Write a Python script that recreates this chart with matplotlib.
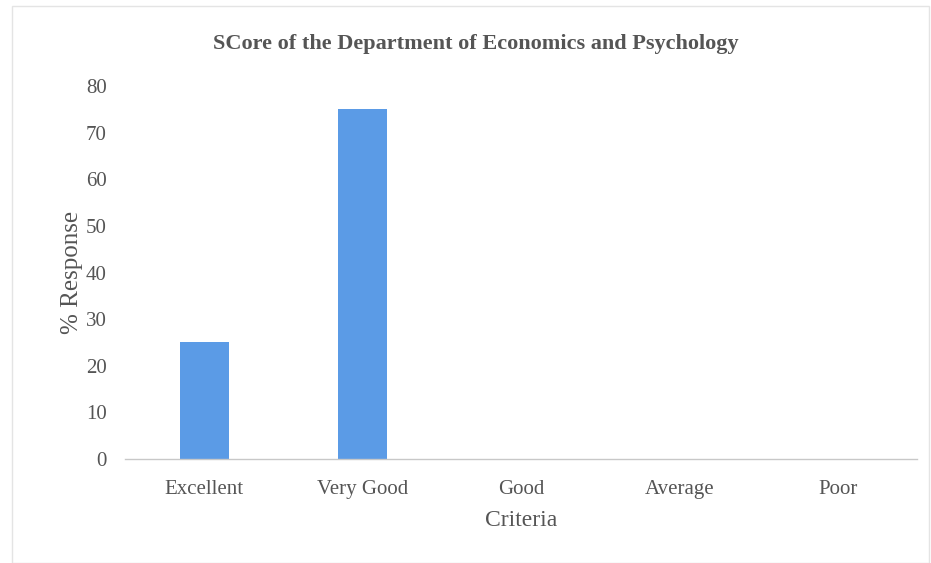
import matplotlib
matplotlib.use("Agg")
from matplotlib import pyplot as plt
from matplotlib.patches import Rectangle

categories = ["Excellent", "Very Good", "Good", "Average", "Poor"]
response = [25, 75, 0, 0, 0]
y_ticks = [0, 10, 20, 30, 40, 50, 60, 70, 80]

text_color = "#555555"
bar_color = "#5B9BE6"

plt.rcParams["font.family"] = ["Liberation Serif", "DejaVu Serif"]

fig = plt.figure(figsize=(9.31, 5.63), dpi=100)
ax = fig.add_axes([0.1343, 0.1847, 0.8507, 0.6625])

# рамка вокруг диаграммы
fig.patches.append(Rectangle((0.013, 0.0), 0.985, 0.99, transform=fig.transFigure,
                             fill=False, edgecolor="#e4e4e4", linewidth=1))

ax.bar(categories, response, width=0.31, color=bar_color)

ax.set_ylim(0, 80)
ax.set_xlim(-0.5, 4.5)
ax.set_yticks(y_ticks)

for side in ["top", "right", "left"]:
    ax.spines[side].set_visible(False)
ax.spines["bottom"].set_color("#c8c8c8")
ax.spines["bottom"].set_linewidth(1)

ax.tick_params(axis="y", length=0, pad=13, labelsize=15, labelcolor=text_color)
ax.tick_params(axis="x", length=0, pad=15, labelsize=15, labelcolor=text_color)

fig.text(0.511, 0.921, "SCore of the Department of Economics and Psychology",
         fontsize=16, color=text_color, fontweight="bold", ha="center", va="center")
ax.set_xlabel("Criteria", fontsize=17, color=text_color, labelpad=8)
ax.set_ylabel("% Response", fontsize=18, color=text_color, labelpad=2)

fig.savefig("out.png", dpi=100)
